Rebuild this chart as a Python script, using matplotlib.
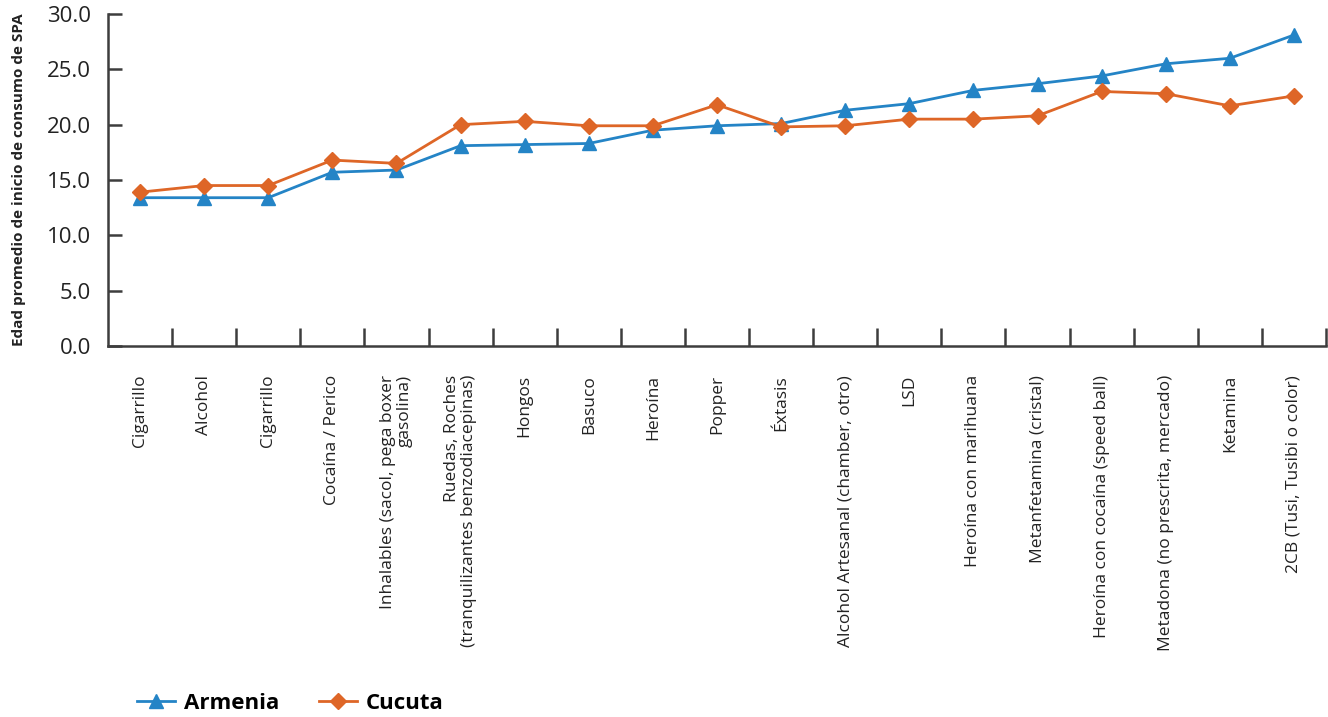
import matplotlib
matplotlib.use("Agg")
import matplotlib.pyplot as plt
import numpy as np

categories = [
    "Cigarrillo", "Alcohol", "Cigarrillo", "Cocaína / Perico",
    "Inhalables (sacol, pega boxer\ngasolina)",
    "Ruedas, Roches\n(tranquilizantes benzodiacepinas)",
    "Hongos", "Basuco", "Heroína", "Popper", "Éxtasis",
    "Alcohol Artesanal (chamber, otro)", "LSD", "Heroína con marihuana",
    "Metanfetamina (cristal)", "Heroína con cocaína (speed ball)",
    "Metadona (no prescrita, mercado)", "Ketamina", "2CB (Tusi, Tusibi o color)",
]
armenia = [13.4, 13.4, 13.4, 15.7, 15.9, 18.1, 18.2, 18.3, 19.5, 19.9, 20.1,
           21.3, 21.9, 23.1, 23.7, 24.4, 25.5, 26.0, 28.1]
cucuta = [13.9, 14.5, 14.5, 16.8, 16.5, 20.0, 20.3, 19.9, 19.9, 21.8, 19.8,
          19.9, 20.5, 20.5, 20.8, 23.0, 22.8, 21.7, 22.6]
yticks = [0, 5, 10, 15, 20, 25, 30]

plt.rcParams['font.family'] = ['Open Sans', 'DejaVu Sans']

BLUE = "#2484c6"
ORANGE = "#de6627"
AXC = "#3d3d3d"

fig = plt.figure(figsize=(13.28, 7.17), dpi=100)
ax = fig.add_axes([108/1328, 1-346/717, (1326-108)/1328, (346-14)/717])

x = np.arange(len(categories))
ax.plot(x, armenia, color=BLUE, lw=2.0, marker='^', ms=10, label="Armenia", zorder=3)
ax.plot(x, cucuta, color=ORANGE, lw=2.0, marker='D', ms=8.5, label="Cucuta", zorder=3)

ax.set_xlim(-0.5, len(categories) - 0.5)
ax.set_ylim(0, 30)
ax.set_yticks(yticks)
ax.set_yticklabels([f"{v:.1f}" for v in yticks], fontsize=16, color="#222222")

ax.set_xticks(x + 0.5)
ax.set_xticklabels([])
ax.tick_params(axis='x', direction='in', length=13, width=1.8, color=AXC)
ax.tick_params(axis='y', direction='in', length=10, width=1.8, color=AXC, pad=12)

for i, c in enumerate(categories):
    ax.text(i, -2.6, c, rotation=90, ha='center', va='top', multialignment='right',
            fontsize=12.5, color="#222222", linespacing=1.05)

for s in ['top', 'right']:
    ax.spines[s].set_visible(False)
for s in ['left', 'bottom']:
    ax.spines[s].set_color(AXC)
    ax.spines[s].set_linewidth(1.8)

ax.set_ylabel("Edad promedio de inicio de consumo de SPA", fontsize=11,
              fontweight='bold', color="#222222", labelpad=15)

leg = fig.legend(loc='lower left', bbox_to_anchor=(117/1328, -0.024), ncol=2,
                 frameon=False, prop={'weight': 'bold', 'size': 16},
                 handlelength=1.7, columnspacing=1.8, handletextpad=0.4)

fig.savefig("out.png", dpi=100)
